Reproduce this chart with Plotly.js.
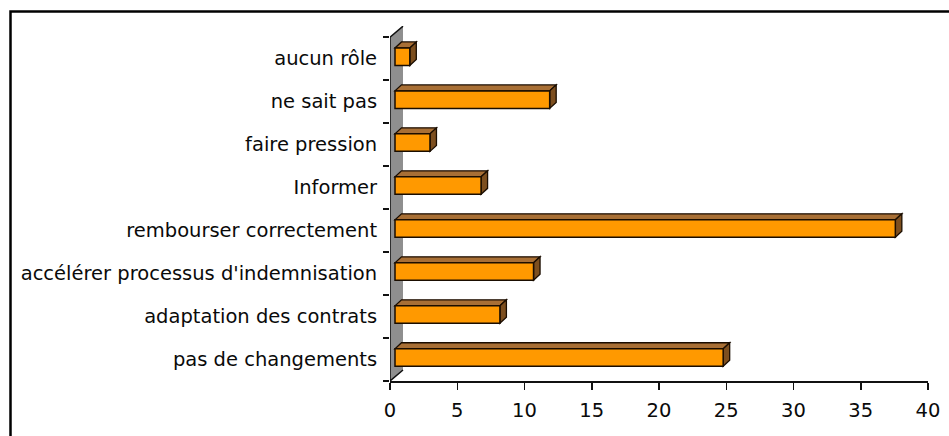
<!DOCTYPE html>
<html>
<head>
<meta charset="utf-8">
<script src="https://cdn.plot.ly/plotly-3.0.1.min.js"></script>
<style>
  html, body { margin: 0; padding: 0; background: #fff; }
  #chart { width: 949px; height: 436px; }
</style>
</head>
<body>
<div id="chart"></div>
<script>
// ---- data (bottom to top, as drawn) ----
const categories = [
  "pas de changements",
  "adaptation des contrats",
  "accélérer processus d'indemnisation",
  "rembourser correctement",
  "Informer",
  "faire pression",
  "ne sait pas",
  "aucun rôle"
];
const values = [24.4, 7.8, 10.3, 37.2, 6.4, 2.6, 11.5, 1.1];
const xTicks = [0, 5, 10, 15, 20, 25, 30, 35, 40];

// ---- geometry / style (pixels -> data units) ----
const W = 949, H = 436;
const M = { l: 390, r: 21, t: 26, b: 55 };
const xRange = [0, 40];
const yRange = [-0.5, 7.76];
const pxPerX = (W - M.l - M.r) / (xRange[1] - xRange[0]);
const pxPerY = (H - M.t - M.b) / (yRange[1] - yRange[0]);

const barBase = 5 / pxPerX;
const barWidth = 17.5 / pxPerY;
const barOffset = -barWidth / 2 + 2 / pxPerY;
const ddx = 6.5 / pxPerX, ddy = 6 / pxPerY;
const wdx = 13 / pxPerX, wdy = 11 / pxPerY;

const orange = "#FF9900", topCol = "#A86F35", sideCol = "#7D4F1F", wallCol = "#8F8F8F";

const idx = categories.map((_, i) => i);
const shapes = [];

const yLo = -0.5, yHi = categories.length - 0.5;
shapes.push({
  type: "path", xref: "x", yref: "y", layer: "below",
  path: `M 0,${yLo} L 0,${yHi} L ${wdx},${yHi + wdy} L ${wdx},${yLo + wdy} Z`,
  fillcolor: wallCol, line: { width: 0 }
});
shapes.push({
  type: "path", xref: "x", yref: "y", layer: "below",
  path: `M ${wdx},${yLo + wdy} L 0,${yLo} L 0,${yHi} L ${wdx},${yHi + wdy}`,
  fillcolor: "rgba(0,0,0,0)", line: { color: "#111", width: 1.5 }
});

values.forEach((v, i) => {
  const yb = i + barOffset, yt = i + barOffset + barWidth;
  const x0 = barBase, x1 = barBase + v;
  shapes.push({
    type: "path", xref: "x", yref: "y", layer: "below",
    path: `M ${x0},${yt} L ${x1},${yt} L ${x1 + ddx},${yt + ddy} L ${x0 + ddx},${yt + ddy} Z`,
    fillcolor: topCol, line: { color: "#1a0d00", width: 1.3 }
  });
  shapes.push({
    type: "path", xref: "x", yref: "y", layer: "below",
    path: `M ${x1},${yb} L ${x1},${yt} L ${x1 + ddx},${yt + ddy} L ${x1 + ddx},${yb + ddy} Z`,
    fillcolor: sideCol, line: { color: "#1a0d00", width: 1.3 }
  });
});

const plotW = W - M.l - M.r, plotH = H - M.t - M.b;
const px2paperX = p => (p - M.l) / plotW;
const px2paperY = p => (H - M.b - p) / plotH;
shapes.push({
  type: "rect", xref: "paper", yref: "paper", layer: "above",
  x0: px2paperX(10.5), x1: px2paperX(W + 20),
  y0: px2paperY(H + 20), y1: px2paperY(11.5),
  line: { color: "#000", width: 2.5 }, fillcolor: "rgba(0,0,0,0)"
});

const font = { family: "DejaVu Sans, Arial, sans-serif", size: 19.5, color: "#0a0a0a" };

const trace = {
  type: "bar", orientation: "h",
  y: idx, x: values, base: barBase,
  width: barWidth, offset: barOffset,
  marker: { color: orange, line: { color: "#1a0d00", width: 1.5 } },
  hoverinfo: "skip"
};

const boundaries = [];
for (let i = 0; i <= categories.length; i++) boundaries.push(i - 0.5);

const layout = {
  width: W, height: H,
  margin: M,
  paper_bgcolor: "#fff", plot_bgcolor: "rgba(0,0,0,0)",
  showlegend: false,
  font: font,
  xaxis: {
    range: xRange, tickmode: "array", tickvals: xTicks, ticktext: xTicks.map(String),
    showgrid: false, zeroline: false,
    showline: true, linecolor: "#111", linewidth: 1.5,
    ticks: "outside", ticklen: 7, tickwidth: 1.5, tickcolor: "#111",
    tickfont: font, ticklabelstandoff: 4, fixedrange: true
  },
  yaxis: {
    range: yRange, tickmode: "array", tickvals: idx, ticktext: categories,
    showgrid: false, zeroline: false, showline: false,
    ticks: "outside", ticklen: 6, tickcolor: "rgba(0,0,0,0)",
    minor: { tickmode: "array", tickvals: boundaries, ticks: "outside", ticklen: 6, tickwidth: 1.5, tickcolor: "#111", showgrid: false },
    tickfont: font, ticklabelstandoff: 2, fixedrange: true
  },
  shapes: shapes,
  bargap: 0
};

Plotly.newPlot("chart", [trace], layout, { displayModeBar: false, staticPlot: true });
</script>
</body>
</html>
